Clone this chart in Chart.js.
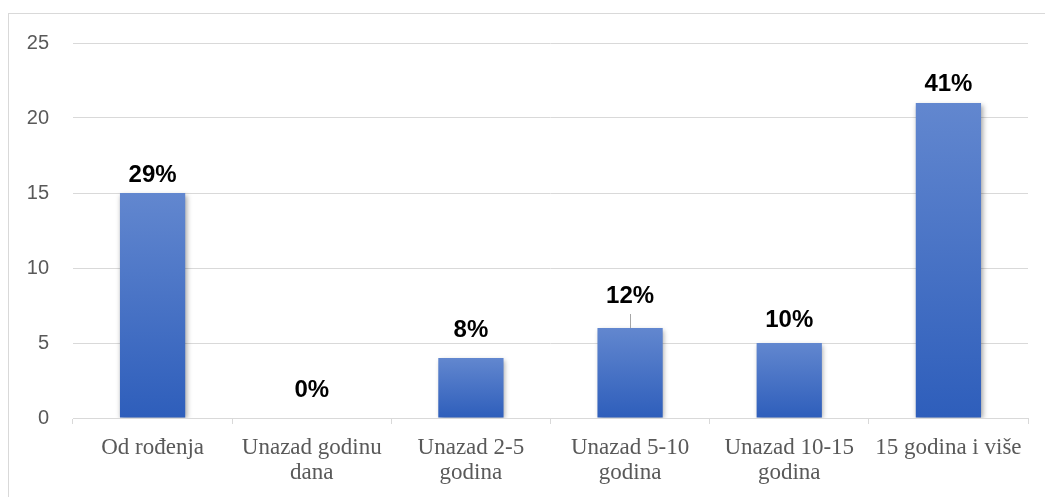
<!DOCTYPE html>
<html>
<head>
<meta charset="utf-8">
<script src="https://cdn.jsdelivr.net/npm/chart.js@4.4.1/dist/chart.umd.min.js"></script>
<style>
  html, body { margin: 0; padding: 0; background: #ffffff; }
  body { width: 1045px; height: 497px; position: relative; overflow: hidden; }
  #frame { position: absolute; left: 8px; top: 13px; width: 1060px; height: 520px; border: 1px solid #d9d9d9; box-sizing: border-box; }
  #wrap { position: absolute; left: 0; top: 0; width: 1045px; height: 497px; }
</style>
</head>
<body>
<div id="frame"></div>
<div id="wrap"><canvas id="c" width="1045" height="497"></canvas></div>
<script>
const categories = [
  ["Od rođenja"],
  ["Unazad godinu", "dana"],
  ["Unazad 2-5", "godina"],
  ["Unazad 5-10", "godina"],
  ["Unazad 10-15", "godina"],
  ["15 godina i više"]
];
const counts = [15, 0, 4, 6, 5, 21];
const percentLabels = ["29%", "0%", "8%", "12%", "10%", "41%"];
const yTicks = [0, 5, 10, 15, 20, 25];

const labelPlugin = {
  id: 'barLabels',
  afterDatasetsDraw(chart, args, opts) {
    const ctx = chart.ctx;
    const meta = chart.getDatasetMeta(0);
    ctx.save();
    ctx.font = 'bold 24px "Liberation Sans", Arial, sans-serif';
    ctx.fillStyle = '#000000';
    ctx.textAlign = 'center';
    ctx.textBaseline = 'middle';
    meta.data.forEach((el, i) => {
      const lift = opts.lifts[i];
      const y = el.y - lift;
      ctx.fillText(percentLabels[i], el.x, y);
      if (opts.leader[i]) {
        ctx.strokeStyle = '#a6a6a6';
        ctx.lineWidth = 1;
        ctx.beginPath();
        ctx.moveTo(Math.round(el.x) + 0.5, y + 18);
        ctx.lineTo(Math.round(el.x) + 0.5, el.y);
        ctx.stroke();
      }
    });
    ctx.restore();
  }
};

const shadowPlugin = {
  id: 'barShadow',
  beforeDatasetDraw(chart) {
    const ctx = chart.ctx;
    ctx.save();
    ctx.shadowColor = 'rgba(0,0,0,0.35)';
    ctx.shadowBlur = 5;
    ctx.shadowOffsetX = 1.5;
    ctx.shadowOffsetY = 1.5;
  },
  afterDatasetDraw(chart) {
    chart.ctx.restore();
  }
};

function barGradient(context) {
  const chart = context.chart;
  if (!chart.chartArea || !chart.scales.y) return '#4472c4';
  const ys = chart.scales.y;
  const v = context.raw;
  const top = ys.getPixelForValue(v);
  const bottom = ys.getPixelForValue(0);
  if (!isFinite(top) || Math.abs(bottom - top) < 1) return '#4472c4';
  const g = chart.ctx.createLinearGradient(0, top, 0, bottom);
  g.addColorStop(0, '#6287cf');
  g.addColorStop(1, '#2e5ebb');
  return g;
}

new Chart(document.getElementById('c'), {
  type: 'bar',
  data: {
    labels: categories,
    datasets: [{
      data: counts,
      backgroundColor: barGradient,
      borderWidth: 0,
      categoryPercentage: 1.0,
      barPercentage: 0.41
    }]
  },
  plugins: [shadowPlugin, labelPlugin],
  options: {
    responsive: false,
    animation: false,
    devicePixelRatio: 1,
    layout: { padding: { left: 0, right: 17, top: 43, bottom: 0 } },
    plugins: {
      legend: { display: false },
      tooltip: { enabled: false },
      title: { display: false },
      barLabels: {
        lifts: [18, 28, 28, 32, 23, 19],
        leader: [false, false, false, true, false, false]
      }
    },
    scales: {
      x: {
        offset: true,
        grid: {
          offset: true,
          drawOnChartArea: false,
          drawTicks: true,
          tickLength: 6,
          color: '#d9d9d9',
          lineWidth: 1
        },
        border: { display: true, color: '#d9d9d9', width: 1 },
        ticks: {
          autoSkip: false,
          maxRotation: 0,
          minRotation: 0,
          padding: 11,
          color: '#595959',
          font: { family: '"Liberation Serif", "Times New Roman", serif', size: 23, lineHeight: 1.09 }
        },
        afterFit(scale) { scale.height = 79; }
      },
      y: {
        min: 0,
        max: 25,
        afterBuildTicks(scale) { scale.ticks = yTicks.map(v => ({ value: v })); },
        grid: {
          drawTicks: false,
          color: '#d9d9d9',
          lineWidth: 1
        },
        border: { display: false },
        ticks: {
          padding: 24,
          color: '#595959',
          font: { family: '"Liberation Sans", Arial, sans-serif', size: 20 }
        },
        afterFit(scale) { scale.width = 73; }
      }
    }
  }
});
</script>
</body>
</html>
